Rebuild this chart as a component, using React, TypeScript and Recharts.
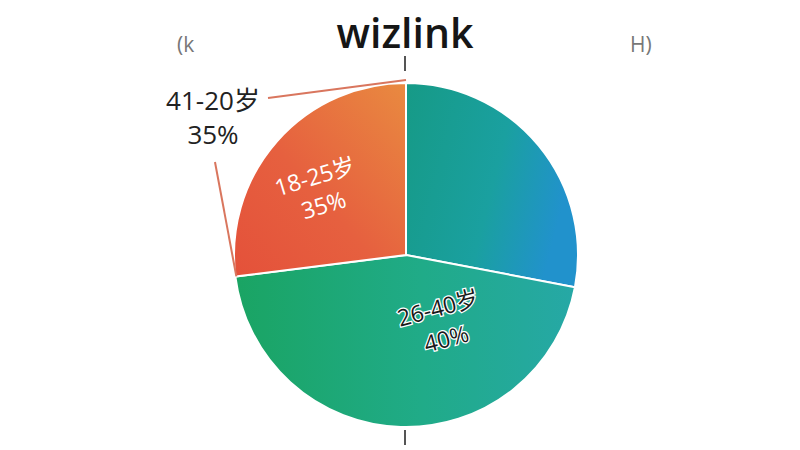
import { PieChart, Pie, Cell } from 'recharts';

// categories clockwise from 12 o'clock
const categories = ['41-20岁', '26-40岁', '18-25岁'];
// slice sizes as drawn (angles)
const shares = [28, 45, 27];
// the percent texts printed on the chart
const shownPercents = ['35%', '40%', '35%'];

const title = 'wizlink';
const fills = ['url(#gTeal)', 'url(#gGreen)', 'url(#gOrange)'];

const data = categories.map((name, i) => ({ name, value: shares[i], pct: shownPercents[i] }));

const RAD = Math.PI / 180;
const FONT = '"Open Sans", "Noto Sans CJK SC", sans-serif';

const renderLabel = (props: any) => {
  const { cx, cy, outerRadius, index, midAngle, startAngle, endAngle } = props;
  const p = (a: number, r: number) => [cx + r * Math.cos(-a * RAD), cy + r * Math.sin(-a * RAD)];

  if (index === 2) {
    // inner label of the orange slice plus the outside bracket label
    const [x, y] = p(midAngle + 4, outerRadius * 0.64);
    // the slice runs from its left end (bigger angle here) round to 12 o'clock
    const leftA = Math.max(startAngle, endAngle);
    const topA = Math.min(startAngle, endAngle);
    const [ax, ay] = p(topA, outerRadius + 3);
    const [bx, by] = p(leftA, outerRadius - 1);
    const tx = cx - 193;
    const ty = cy - 145;
    return (
      <g>
        <line x1={tx + 55} y1={ty - 12} x2={ax} y2={ay} stroke="#d9765e" strokeWidth={2} />
        <line x1={tx + 2} y1={ty + 52} x2={bx} y2={by} stroke="#d9765e" strokeWidth={2} />
        <text x={tx} y={ty} textAnchor="middle" fontFamily={FONT} fontSize={26} fill="#222">
          {categories[0]}
        </text>
        <text x={tx} y={ty + 34} textAnchor="middle" fontFamily={FONT} fontSize={26} fill="#222">
          {shownPercents[2]}
        </text>
        <g transform={`rotate(-17 ${x} ${y})`}>
          <text x={x} y={y - 4} textAnchor="middle" fontFamily={FONT} fontSize={23} fill="#fff">
            {categories[2]}
          </text>
          <text x={x} y={y + 26} textAnchor="middle" fontFamily={FONT} fontSize={23} fill="#fff">
            {shownPercents[2]}
          </text>
        </g>
      </g>
    );
  }
  if (index === 1) {
    const [x, y] = p(midAngle + 30, outerRadius * 0.44);
    return (
      <g transform={`rotate(-15 ${x} ${y})`}>
        <text x={x} y={y - 6} textAnchor="middle" fontFamily={FONT} fontSize={23} fill="#1a1a1a"
          stroke="#fff" strokeWidth={2.5} paintOrder="stroke">
          {categories[1]}
        </text>
        <text x={x} y={y + 26} textAnchor="middle" fontFamily={FONT} fontSize={23} fill="#1a1a1a"
          stroke="#fff" strokeWidth={2.5} paintOrder="stroke">
          {shownPercents[1]}
        </text>
      </g>
    );
  }
  return null;
};

export default function App() {
  return (
    <div style={{ position: 'absolute', left: 0, top: 0, width: 800, height: 450, background: '#fff' }}>
      <div style={{ position: 'absolute', left: 0, width: 810, top: 4, textAlign: 'center',
        fontFamily: FONT, fontWeight: 600, fontSize: 41, color: '#161616' }}>
        {title}
      </div>
      <div style={{ position: 'absolute', left: 177, top: 30, fontFamily: FONT, fontSize: 21, color: '#777' }}>(k</div>
      <div style={{ position: 'absolute', left: 630, top: 30, fontFamily: FONT, fontSize: 21, color: '#777' }}>H)</div>
      <div style={{ position: 'absolute', left: 404, top: 56, width: 2, height: 15, background: '#555' }} />
      <div style={{ position: 'absolute', left: 404, top: 430, width: 2, height: 15, background: '#555' }} />
      <div style={{ position: 'absolute', left: 0, top: 0 }}>
        <PieChart width={800} height={450}>
          <defs>
            <linearGradient id="gTeal" x1="0" y1="0" x2="1" y2="0.3">
              <stop offset="0%" stopColor="#169a86" />
              <stop offset="60%" stopColor="#1aa0a0" />
              <stop offset="100%" stopColor="#2192cc" />
            </linearGradient>
            <linearGradient id="gGreen" x1="0" y1="0" x2="1" y2="0">
              <stop offset="0%" stopColor="#1aa463" />
              <stop offset="55%" stopColor="#20ab88" />
              <stop offset="100%" stopColor="#26a8a6" />
            </linearGradient>
            <linearGradient id="gOrange" x1="1" y1="0" x2="0" y2="1">
              <stop offset="0%" stopColor="#e98a40" />
              <stop offset="55%" stopColor="#e6603f" />
              <stop offset="100%" stopColor="#e4513a" />
            </linearGradient>
          </defs>
          <Pie
            data={data}
            dataKey="value"
            nameKey="name"
            cx={401}
            cy={250}
            outerRadius={172}
            startAngle={90}
            endAngle={-270}
            stroke="#fff"
            strokeWidth={2}
            labelLine={false}
            label={renderLabel}
            isAnimationActive={false}
          >
            {data.map((d, i) => (
              <Cell key={d.name} fill={fills[i]} />
            ))}
          </Pie>
        </PieChart>
      </div>
    </div>
  );
}
